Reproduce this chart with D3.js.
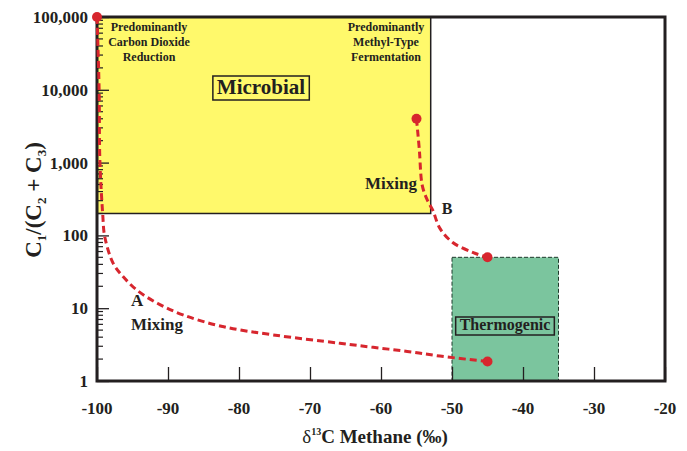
<!DOCTYPE html>
<html><head><meta charset="utf-8">
<script src="https://cdn.jsdelivr.net/npm/d3@7"></script>
<style>body{margin:0;background:#fff}svg{display:block}text{font-family:"Liberation Serif","Times New Roman",serif;font-weight:bold;fill:#231f20}</style>
</head><body><svg id="c" width="687" height="451"></svg>
<script>
const xTicks = [-100,-90,-80,-70,-60,-50,-40,-30,-20];
const yTicks = [1,10,100,1000,10000,100000];
const yTickLabels = ["1","10","100","1,000","10,000","100,000"];
const microbialBox = {x0:-100, x1:-53, y0:200, y1:100000};
const thermoBox = {x0:-50, x1:-35, y0:1, y1:50};
const endPoints = [[-100,100000],[-55,4000],[-45,50],[-45,1.85]];
const curveA = [[-100,100000],[-99.7,10000],[-99.6,1100],[-99.2,200],[-98.9,95],[-97.7,41],[-96.3,27],[-94.4,17.8],[-91.5,11.7],[-87.9,8.1],[-82.3,5.6],[-75.2,4.3],[-65.8,3.3],[-61.1,2.9],[-56.3,2.55],[-51.7,2.2],[-45,1.85]];
const curveB = [[-55,4000],[-54.6,1500],[-54.2,490],[-53.5,310],[-52.7,220],[-51.7,125],[-49.9,80],[-47,58],[-45,50]];

const svg = d3.select("#c");
const x = d3.scaleLinear().domain([-100,-20]).range([97,665]);
const y = d3.scaleLog().domain([1,100000]).range([381,17]);

// boxes
svg.append("rect").attr("x",x(microbialBox.x0)).attr("y",y(microbialBox.y1))
  .attr("width",x(microbialBox.x1)-x(microbialBox.x0)).attr("height",y(microbialBox.y0)-y(microbialBox.y1))
  .attr("fill","#fff96b").attr("stroke","#231f20").attr("stroke-width",1.5);
svg.append("rect").attr("x",x(thermoBox.x0)).attr("y",y(thermoBox.y1))
  .attr("width",x(thermoBox.x1)-x(thermoBox.x0)).attr("height",y(thermoBox.y0)-y(thermoBox.y1))
  .attr("fill","#7bc59e").attr("stroke","#1f3a2c").attr("stroke-width",1).attr("stroke-dasharray","4,2");

// y axis ticks (inward)
const yAxis = d3.axisRight(y).tickValues(yTicks).tickSize(12).tickFormat("");
const gy = svg.append("g").attr("transform",`translate(${x(-100)},0)`).call(yAxis);
gy.select(".domain").remove();
gy.selectAll("line").attr("stroke","#231f20").attr("stroke-width",1.3);
const minor = [];
for (let d=1; d<100000; d*=10) for (let k=2;k<=9;k++) minor.push(d*k);
svg.append("g").selectAll("line").data(minor).join("line")
  .attr("x1",x(-100)).attr("x2",x(-100)+6).attr("y1",d=>y(d)).attr("y2",d=>y(d))
  .attr("stroke","#231f20").attr("stroke-width",1.2);
svg.append("g").selectAll("text").data(yTicks).join("text")
  .attr("x",88).attr("y",d=>y(d)+6).attr("text-anchor","end").attr("font-size",17)
  .text((d,i)=>yTickLabels[i]);

// x axis ticks (inward)
const xAxis = d3.axisTop(x).tickValues(xTicks).tickSize(14).tickFormat("");
const gx = svg.append("g").attr("transform",`translate(0,${y(1)})`).call(xAxis);
gx.select(".domain").remove();
gx.selectAll("line").attr("stroke","#231f20").attr("stroke-width",1.3);
svg.append("g").selectAll("text").data(xTicks).join("text")
  .attr("x",d=>x(d)).attr("y",414).attr("text-anchor","middle").attr("font-size",17)
  .text(d=>d);

// frame
svg.append("rect").attr("x",x(-100)).attr("y",y(100000)).attr("width",x(-20)-x(-100))
  .attr("height",y(1)-y(100000)).attr("fill","none").attr("stroke","#231f20").attr("stroke-width",3);

// curves
const lineA = d3.line().x(d=>x(d[0])).y(d=>y(d[1])).curve(d3.curveCatmullRom.alpha(0.5));
svg.append("path").attr("d",lineA(curveA)).attr("fill","none").attr("stroke","#d7262e")
  .attr("stroke-width",3).attr("stroke-dasharray","7,4");
svg.append("path").attr("d",lineA(curveB)).attr("fill","none").attr("stroke","#d7262e")
  .attr("stroke-width",3).attr("stroke-dasharray","7,4");
svg.append("g").selectAll("circle").data(endPoints).join("circle")
  .attr("cx",d=>x(d[0])).attr("cy",d=>y(d[1])).attr("r",5).attr("fill","#d7262e");

// labels
function multi(lines, cx, cy, size, lh){
  const t = svg.append("text").attr("text-anchor","middle").attr("font-size",size);
  lines.forEach((s,i)=>t.append("tspan").attr("x",cx).attr("y",cy+i*lh).text(s));
}
multi(["Predominantly","Carbon Dioxide","Reduction"],149,31,12,15);
multi(["Predominantly","Methyl-Type","Fermentation"],386,31,12,15);

function boxed(txt, cx, cy, size){
  const t = svg.append("text").attr("x",cx).attr("y",cy).attr("text-anchor","middle").attr("font-size",size).text(txt);
  const b = t.node().getBBox();
  svg.insert("rect", ()=>t.node()).attr("x",b.x-4).attr("y",b.y+1).attr("width",b.width+8).attr("height",b.height)
    .attr("fill","none").attr("stroke","#231f20").attr("stroke-width",1.5);
}
boxed("Microbial",261,94,21);
boxed("Thermogenic",505,330,16);

svg.append("text").attr("x",391).attr("y",189).attr("text-anchor","middle").attr("font-size",17).text("Mixing");
svg.append("text").attr("x",447).attr("y",214).attr("text-anchor","middle").attr("font-size",16).text("B");
svg.append("text").attr("x",131).attr("y",306).attr("font-size",17).text("A");
svg.append("text").attr("x",131).attr("y",330).attr("font-size",17).text("Mixing");

// axis titles
const xt = svg.append("text").attr("x",375).attr("y",443).attr("text-anchor","middle").attr("font-size",19);
xt.append("tspan").attr("font-weight","normal").text("δ");
xt.append("tspan").attr("font-size",10).attr("dy",-8).text("13");
xt.append("tspan").attr("dy",8).text("C Methane (‰)");

const yt = svg.append("text").attr("transform","translate(41,200) rotate(-90)").attr("text-anchor","middle").attr("font-size",23);
yt.append("tspan").text("C");
yt.append("tspan").attr("font-size",13).attr("dy",5).text("1");
yt.append("tspan").attr("dy",-5).text("/(C");
yt.append("tspan").attr("font-size",13).attr("dy",5).text("2");
yt.append("tspan").attr("dy",-5).text(" + C");
yt.append("tspan").attr("font-size",13).attr("dy",5).text("3");
yt.append("tspan").attr("dy",-5).text(")");
</script></body></html>
